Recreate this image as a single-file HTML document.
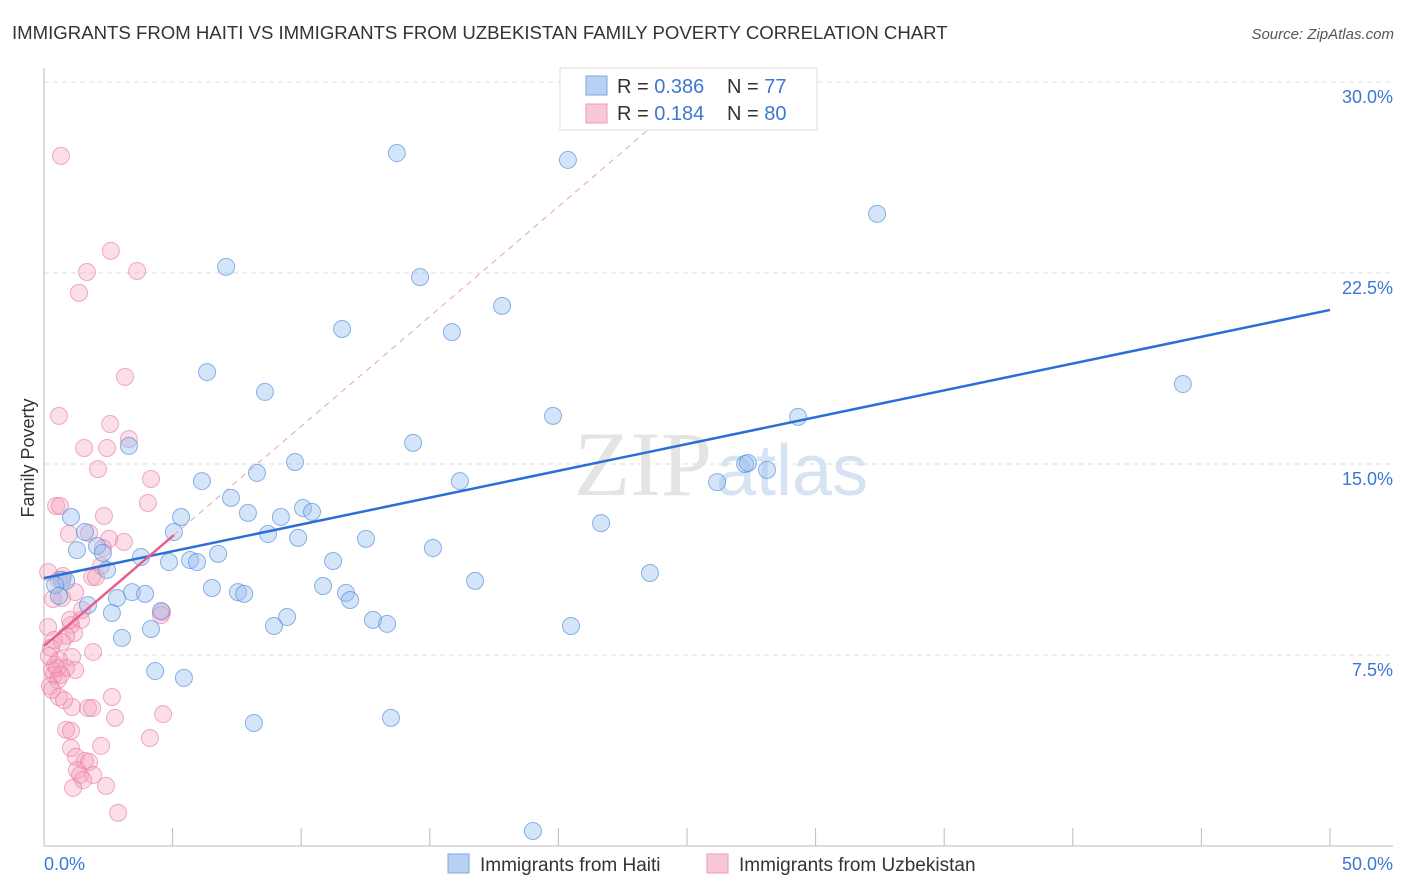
<!DOCTYPE html>
<html><head><meta charset="utf-8"><style>
body{margin:0;background:#fff;font-family:"Liberation Sans",sans-serif;}
svg{display:block}
</style></head><body>
<svg id="chart" width="1406" height="892">
<text x="12" y="39" font-size="18.6" fill="#333">IMMIGRANTS FROM HAITI VS IMMIGRANTS FROM UZBEKISTAN FAMILY POVERTY CORRELATION CHART</text>
<text x="1394" y="39" font-size="15" fill="#555" font-style="italic" text-anchor="end">Source: ZipAtlas.com</text>
<text x="0" y="0" transform="translate(34,458) rotate(-90)" font-size="18" fill="#333" text-anchor="middle">Family Poverty</text>
<text x="712" y="495" font-size="92" fill="#e4e4e4" font-family="Liberation Serif,serif" text-anchor="end">ZIP</text>
<text x="716" y="495" font-size="72" fill="#d6e3f3">atlas</text>
<g id="grid"></g><g id="axes"></g><g id="marks"></g><g id="lines"></g>
<g>
<rect x="560" y="68" width="257" height="62" fill="#fff" stroke="#ddd"/>
<rect x="586" y="76" width="21" height="19" fill="#b8d1f3" stroke="#7aa6e3"/>
<rect x="586" y="104" width="21" height="19" fill="#f8c8d6" stroke="#ec9ab2"/>
<text x="617" y="93" font-size="20" fill="#333">R = <tspan fill="#3a78d4">0.386</tspan></text>
<text x="727" y="93" font-size="20" fill="#333">N =  <tspan fill="#3a78d4">77</tspan></text>
<text x="617" y="120" font-size="20" fill="#333">R =  <tspan fill="#3a78d4">0.184</tspan></text>
<text x="727" y="120" font-size="20" fill="#333">N = <tspan fill="#3a78d4">80</tspan></text>
</g>
<g>
<rect x="448" y="854" width="21" height="19" fill="#b8d1f3" stroke="#7aa6e3"/>
<text x="480" y="871" font-size="19" fill="#333">Immigrants from Haiti</text>
<rect x="707" y="854" width="21" height="19" fill="#f8c8d6" stroke="#ec9ab2"/>
<text x="739" y="871" font-size="19" fill="#333">Immigrants from Uzbekistan</text>
</g>
</svg>
<script>
const yTicks=[7.5,15,22.5,30];
const yTickLabels=["7.5%","15.0%","22.5%","30.0%"];
const xTicks=[0,5,10,15,20,25,30,35,40,45,50];
const xEndLabels=["0.0%","50.0%"];
const haitiX=[13.72,20.37,32.39,7.08,14.62,17.81,11.59,15.86,6.34,8.59,44.28,19.79,29.32,3.30,14.35,9.76,8.28,27.26,27.37,28.11,26.17,16.17,6.14,7.27,7.93,10.07,10.42,9.21,5.33,1.05,21.66,1.59,5.05,8.71,9.88,12.52,15.12,1.28,6.77,3.77,2.06,2.29,4.86,5.68,5.95,11.24,2.45,23.56,16.76,0.70,0.86,0.43,10.85,6.53,7.54,7.78,3.42,3.93,2.84,11.74,11.90,0.58,1.71,4.55,2.64,9.45,12.79,13.34,8.94,20.49,4.16,3.03,4.32,5.44,8.16,13.49,19.01];
const haitiY=[27.21,26.94,24.82,22.74,22.34,21.21,20.30,20.18,18.61,17.83,18.14,16.89,16.85,15.71,15.83,15.08,14.65,15.00,15.04,14.77,14.29,14.33,14.33,13.67,13.08,13.27,13.12,12.92,12.92,12.92,12.68,12.33,12.33,12.25,12.10,12.06,11.70,11.62,11.47,11.35,11.78,11.51,11.15,11.23,11.15,11.19,10.84,10.72,10.41,10.45,10.41,10.25,10.21,10.13,9.97,9.90,9.97,9.90,9.74,9.94,9.66,9.82,9.46,9.23,9.15,8.99,8.88,8.72,8.64,8.64,8.52,8.17,6.87,6.60,4.83,5.03,0.59];
const uzbX=[0.66,2.60,1.67,3.62,1.36,3.15,0.58,2.57,3.30,1.56,2.45,2.10,4.16,4.04,0.47,0.62,2.33,1.75,0.97,2.53,3.11,2.29,0.16,0.74,0.58,1.87,2.02,2.22,1.21,4.59,4.55,1.44,1.05,1.17,0.16,0.86,0.39,0.70,1.91,0.27,1.09,0.58,0.86,0.31,1.21,0.39,0.66,0.54,0.23,0.58,1.09,1.71,1.87,2.64,4.63,2.76,0.86,1.05,4.12,2.22,1.05,1.24,1.59,1.75,1.28,1.40,1.91,1.52,1.13,2.41,2.88,0.43,0.70,0.51,0.19,0.35,1.01,1.48,0.31,0.78];
const uzbY=[27.10,23.37,22.54,22.58,21.72,18.42,16.89,16.57,15.98,15.63,15.63,14.80,14.41,13.47,13.35,13.35,12.96,12.29,12.25,12.06,11.94,11.70,10.76,10.60,10.45,10.56,10.56,11.00,9.97,9.19,9.07,8.88,8.68,8.36,8.60,8.25,8.09,8.01,7.62,7.78,7.42,7.30,6.99,6.91,6.91,6.72,6.72,6.52,6.28,5.85,5.46,5.42,5.42,5.85,5.18,5.03,4.56,4.52,4.24,3.93,3.85,3.50,3.34,3.30,2.98,2.79,2.79,2.59,2.28,2.36,1.30,7.11,9.74,6.99,7.46,9.70,8.88,9.27,6.13,5.73];
const haitiTrend=[10.52,21.05];
const uzbTrend=[7.85,0.863];
const NS="http://www.w3.org/2000/svg";
const X=v=>44+v/50*1286;
const Y=v=>846-v/30*764;
function mk(tag,attrs,parent){const e=document.createElementNS(NS,tag);for(const k in attrs)e.setAttribute(k,attrs[k]);parent.appendChild(e);return e;}
const grid=document.getElementById('grid'),axes=document.getElementById('axes'),marks=document.getElementById('marks'),lines=document.getElementById('lines');
yTicks.forEach((t,i)=>{
 const l=mk('line',{x1:44,x2:1393,y1:Y(t),y2:Y(t),stroke:'#ddd','stroke-dasharray':'5,4'},grid);
 
 
 const tx=mk('text',{x:1393,y:Y(t)+21,'font-size':18,fill:'#3a78d4','text-anchor':'end'},axes);
 tx.textContent=yTickLabels[i];
 
 
});
const ya=mk('line',{x1:44,x2:44,y1:68,y2:846,stroke:'#bbb'},axes);


const xa=mk('line',{x1:44,x2:1393,y1:846,y2:846,stroke:'#bbb'},axes);


xTicks.forEach(t=>{
 const l=mk('line',{x1:X(t),x2:X(t),y1:828,y2:846,stroke:'#bbb'},axes);
 
 
});
const xl0=mk('text',{x:44,y:870,'font-size':18,fill:'#3a78d4'},axes);
xl0.textContent=xEndLabels[0];


const xl1=mk('text',{x:1393,y:870,'font-size':18,fill:'#3a78d4','text-anchor':'end'},axes);
xl1.textContent=xEndLabels[1];


uzbX.forEach((v,i)=>{
 const c=mk('circle',{cx:X(v),cy:Y(uzbY[i]),r:8.5,fill:'rgba(244,160,186,0.35)',stroke:'rgba(232,120,155,0.6)','stroke-width':1},marks);
 
 
});
haitiX.forEach((v,i)=>{
 const c=mk('circle',{cx:X(v),cy:Y(haitiY[i]),r:8.5,fill:'rgba(150,190,240,0.4)',stroke:'rgba(80,140,220,0.65)','stroke-width':1},marks);
 
 
});
const bt=mk('line',{x1:X(0),y1:Y(haitiTrend[0]),x2:X(50),y2:Y(haitiTrend[1]),stroke:'#2a6fd6','stroke-width':2.5},lines);


const xEnd=(30.5-uzbTrend[0])/uzbTrend[1];
const pd=mk('line',{x1:X(5.05),y1:Y(uzbTrend[0]+uzbTrend[1]*5.05),x2:X(xEnd),y2:Y(30.5),stroke:'#e8a0b6','stroke-width':1,'stroke-dasharray':'6,5'},lines);


const ps=mk('line',{x1:X(0),y1:Y(uzbTrend[0]),x2:X(5.05),y2:Y(uzbTrend[0]+uzbTrend[1]*5.05),stroke:'#e5608a','stroke-width':2.5},lines);


</script>
</body></html>
